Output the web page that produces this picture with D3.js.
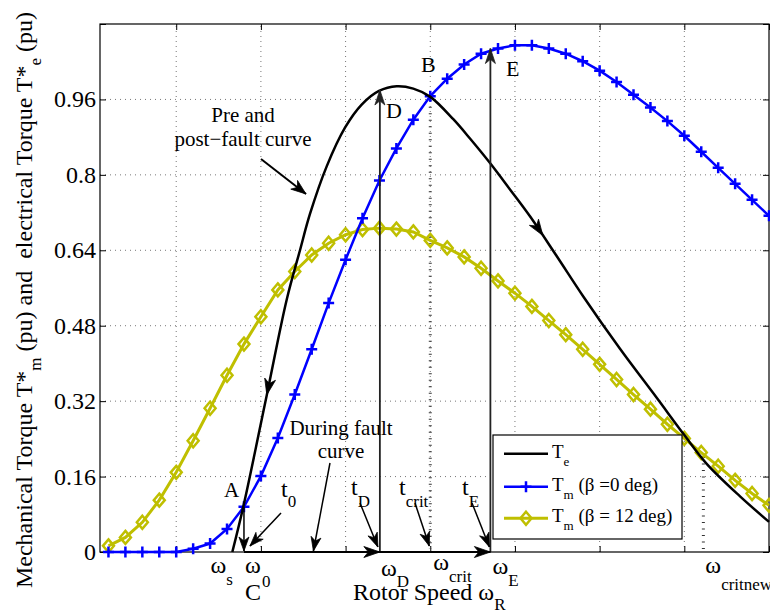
<!DOCTYPE html>
<html><head><meta charset="utf-8">
<script src="https://cdn.jsdelivr.net/npm/d3@7"></script>
<style>
body{margin:0;background:#fff}
svg{display:block}
text{font-family:"Liberation Serif","Times New Roman",serif;fill:#000}
</style>
</head><body>
<svg id="c" width="770" height="612"></svg>
<script>
// ---------------- data ----------------
const speed = [0.984,0.988,0.992,0.996,1.000,1.004,1.008,1.012,1.016,1.020,
               1.024,1.028,1.032,1.036,1.040,1.044,1.048,1.052,1.056,1.060,
               1.064,1.068,1.072,1.076,1.080,1.084,1.088,1.092,1.096,1.100,
               1.104,1.108,1.112,1.116,1.120,1.124,1.128,1.132,1.136,1.140];
const tmBeta0 = [0,0,0,0,0,0.007,0.018,0.049,0.096,0.161,
                 0.242,0.334,0.430,0.528,0.620,0.708,0.788,0.856,0.917,0.967,
                 1.004,1.034,1.057,1.068,1.075,1.075,1.068,1.057,1.041,1.021,
                 0.997,0.970,0.943,0.914,0.883,0.849,0.815,0.781,0.747,0.713];
const tmBeta12 = [0.013,0.031,0.063,0.110,0.169,0.236,0.305,0.375,0.441,0.499,
                  0.556,0.595,0.630,0.655,0.673,0.684,0.687,0.685,0.679,0.661,
                  0.645,0.626,0.602,0.575,0.549,0.521,0.491,0.461,0.430,0.398,
                  0.366,0.334,0.303,0.271,0.241,0.211,0.182,0.152,0.124,0.099];
const teSpeed = [1.01325,1.01584,1.02137,1.02609,1.02923,1.03159,1.03554,1.03986,1.04380,1.04789,
                 1.05207,1.05599,1.05994,1.06544,1.06938,1.07411,1.07883,1.08355,1.08969,1.09614,
                 1.10481,1.11348,1.12000,1.12529,1.13316,1.14000];
const teTorque = [0,0.096,0.332,0.535,0.640,0.717,0.818,0.900,0.949,0.978,
                  0.988,0.983,0.966,0.918,0.877,0.825,0.769,0.712,0.630,0.542,
                  0.431,0.327,0.248,0.187,0.118,0.064];
const xTicks = [1.00,1.02,1.04,1.06,1.08,1.10,1.12,1.14];
const yTicks = [0,0.16,0.32,0.48,0.64,0.80,0.96,1.12];
const yTickLabels = ["0","0.16","0.32","0.48","0.64","0.8","0.96",""];
const xDomain = [0.982,1.14];
const yDomain = [0,1.12];
// key operating points (speed, torque)
const wS = 1.0133, wC0 = 1.0160, wD = 1.0481, wCrit = 1.0600, wE = 1.0742, wCritNew = 1.1245;
const tA = 0.096, tD = 0.980, tB = 0.967, tE = 1.068, tCritNew = 0.21;
const legendNames = [["T","e",""],["T","m"," (β =0 deg)"],["T","m"," (β = 12 deg)"]];

// ---------------- setup ----------------
const svg = d3.select("#c");
const L=100, R=769, T=24, B=552;
const x = d3.scaleLinear(xDomain,[L,R]);
const y = d3.scaleLinear(yDomain,[B,T]);
const BLUE="#0000ff", YEL="#bfbf00";

// grid
const grid = svg.append("g").attr("stroke","#777").attr("stroke-width",1).attr("stroke-dasharray","1 4");
xTicks.filter(v=>v<1.139).forEach(v=>grid.append("line").attr("x1",x(v)).attr("x2",x(v)).attr("y1",B).attr("y2",T));
yTicks.filter(v=>v>0&&v<1.11).forEach(v=>grid.append("line").attr("y1",y(v)).attr("y2",y(v)).attr("x1",L).attr("x2",R));

// axes (ticks inside)
function styleAxis(g){g.select(".domain").remove();g.selectAll("line").attr("stroke","#000");g.selectAll("text").remove();}
svg.append("g").attr("transform",`translate(0,${B})`).call(d3.axisBottom(x).tickValues(xTicks).tickSize(-6).tickFormat("")).call(styleAxis);
svg.append("g").attr("transform",`translate(0,${T})`).call(d3.axisTop(x).tickValues(xTicks).tickSize(-6).tickFormat("")).call(styleAxis);
svg.append("g").attr("transform",`translate(${L},0)`).call(d3.axisLeft(y).tickValues(yTicks).tickSize(-6).tickFormat("")).call(styleAxis);
svg.append("g").attr("transform",`translate(${R},0)`).call(d3.axisRight(y).tickValues(yTicks).tickSize(-6).tickFormat("")).call(styleAxis);
svg.append("rect").attr("x",L).attr("y",T).attr("width",R-L).attr("height",B-T).attr("fill","none").attr("stroke","#000").attr("stroke-width",1.2);

// y tick labels
svg.append("g").selectAll("text").data(yTicks.map((v,i)=>[v,yTickLabels[i]])).join("text")
  .attr("x",L-4).attr("y",d=>y(d[0])+8).attr("text-anchor","end").attr("font-size",24).text(d=>d[1]);

// ---------------- helpers ----------------
function arrowHead(g,tx,ty,ang,len=14,w=10,col="#000"){
  const p=[[0,0],[-len,-w/2],[-len*0.72,0],[-len,w/2]];
  const c=Math.cos(ang),s=Math.sin(ang);
  const pts=p.map(([a,b])=>[tx+a*c-b*s,ty+a*s+b*c]);
  g.append("path").attr("d","M"+pts.map(q=>q.join(",")).join("L")+"Z").attr("fill",col).attr("stroke",col).attr("stroke-width",0.8);
}
function arrow(g,x1,y1,x2,y2,sw=1.5,col="#000",len=14,w=10){
  g.append("line").attr("x1",x1).attr("y1",y1).attr("x2",x2).attr("y2",y2).attr("stroke",col).attr("stroke-width",sw);
  arrowHead(g,x2,y2,Math.atan2(y2-y1,x2-x1),len,w,col);
}
function sublabel(g,xx,yy,main,sub,size=21,subSize=15,dy=11,extra=""){
  const t=g.append("text").attr("x",xx).attr("y",yy).attr("font-size",size);
  t.append("tspan").text(main);
  t.append("tspan").attr("dy",dy).attr("font-size",subSize).text(sub);
  if(extra) t.append("tspan").attr("dy",-dy).text(extra);
  return t;
}
function teAt(v){ for(let i=1;i<teSpeed.length;i++){ if(v<=teSpeed[i]){const f=(v-teSpeed[i-1])/(teSpeed[i]-teSpeed[i-1]); return {val:teTorque[i-1]+f*(teTorque[i]-teTorque[i-1]), i};}} return {val:teTorque[teTorque.length-1],i:teSpeed.length-1}; }

// ---------------- series ----------------
// critical speed markers (dashed)
[[wCrit,tB],[wCritNew,tCritNew]].forEach(([w,t])=>{
  svg.append("line").attr("x1",x(w)).attr("x2",x(w)).attr("y1",y(t)+4).attr("y2",B-3)
    .attr("stroke","#333").attr("stroke-width",3).attr("stroke-dasharray","1 5.5");
});

const line = d3.line().x(d=>x(d[0])).y(d=>y(d[1]));
svg.append("path").datum(speed.map((s,i)=>[s,tmBeta12[i]])).attr("d",line).attr("fill","none").attr("stroke",YEL).attr("stroke-width",3);
svg.append("g").selectAll("path").data(speed.map((s,i)=>[s,tmBeta12[i]])).join("path")
  .attr("d",d=>`M${x(d[0])},${y(d[1])-6.5}l5.5,6.5l-5.5,6.5l-5.5,-6.5z`).attr("fill","none").attr("stroke",YEL).attr("stroke-width",2.5);

svg.append("path").datum(speed.map((s,i)=>[s,tmBeta0[i]])).attr("d",line).attr("fill","none").attr("stroke",BLUE).attr("stroke-width",2.5);
svg.append("g").selectAll("path").data(speed.map((s,i)=>[s,tmBeta0[i]])).join("path")
  .attr("d",d=>`M${x(d[0])-5.5},${y(d[1])}h11M${x(d[0])},${y(d[1])-5.5}v11`).attr("fill","none").attr("stroke",BLUE).attr("stroke-width",2.5);

const smooth = d3.line().x(d=>x(d[0])).y(d=>y(d[1])).curve(d3.curveCatmullRom.alpha(0.5));
svg.append("path").datum(teSpeed.map((s,i)=>[s,teTorque[i]])).attr("d",smooth).attr("fill","none").attr("stroke","#000").attr("stroke-width",2.5);

// arrows on Te curve
[[1.0214,-1],[1.0866,1]].forEach(([v,dir])=>{
  const r=teAt(v); const i=r.i;
  const ang=Math.atan2(y(teTorque[i])-y(teTorque[i-1]),x(teSpeed[i])-x(teSpeed[i-1]))+(dir<0?Math.PI:0);
  arrowHead(svg,x(v),y(r.val),ang,16,11);
});

// vertical arrows
arrow(svg,x(wD),B,x(wD),y(tD),1.8,"#222",15,10);
arrow(svg,x(wE),B,x(wE),y(tE),1.8,"#222",15,10);
arrow(svg,x(wC0),y(tA),x(wC0),B-1,1.5,"#000",14,10);
// horizontal trajectory along axis
svg.append("line").attr("x1",x(wC0)).attr("x2",x(wE)).attr("y1",B).attr("y2",B).attr("stroke","#000").attr("stroke-width",2.2);
arrowHead(svg,x(wD),B,0,16,11);
arrowHead(svg,x(wE),B,0,16,11);

// pointer arrows
arrow(svg,261,159,306,194,2,"#000",15,11);
arrow(svg,330,463,x(1.0324),B-1,1.5,"#000",14,10);
arrow(svg,281,513,x(wC0)+6,B-6,1.5,"#000",14,10);
arrow(svg,360,503,x(wD)-2,B-5,1.5,"#000",14,10);
arrow(svg,415,503,x(wCrit)-1,B-6,1.5,"#000",14,10);
arrow(svg,472,503,x(wE)-1,B-5,1.5,"#000",14,10);

// ---------------- annotation text ----------------
const txt=(xx,yy,s,size=21,anchor="start")=>svg.append("text").attr("x",xx).attr("y",yy).attr("font-size",size).attr("text-anchor",anchor).text(s);
txt(243,122,"Pre and",21,"middle");
txt(243,146,"post\u2212fault curve",21,"middle");
txt(341,435,"During fault",21,"middle");
txt(341,458,"curve",21,"middle");
txt(224,497,"A",21);
txt(421,72,"B",22);
txt(386,118,"D",22);
txt(506,76,"E",22);
sublabel(svg,281,497,"t","0",24,17,10);
sublabel(svg,351,495,"t","D",24,17,12);
sublabel(svg,399,495,"t","crit",24,17,12);
sublabel(svg,462,495,"t","E",24,17,12);

// x-axis speed labels
sublabel(svg,x(wS)-22,573,"ω","s",24,17,12);
txt(x(wC0)+1,573,"ω",24);
txt(x(wC0)+1,600,"C",24);
txt(x(wC0)+18,587,"0",17);
sublabel(svg,x(wD)+1,576,"ω","D",24,17,11);
sublabel(svg,x(wCrit)+3,570,"ω","crit",24,17,12);
sublabel(svg,x(wE)+2,574,"ω","E",24,17,12);
sublabel(svg,x(wCritNew)+2,573,"ω","critnew",24,17,17);
sublabel(svg,353,600,"Rotor Speed ω","R",24,17,10);

// y-axis label
const yl=svg.append("text").attr("transform","translate(32,300) rotate(-90)").attr("text-anchor","middle").attr("font-size",24);
yl.append("tspan").text("Mechanical Torque T*");
yl.append("tspan").attr("dy",9).attr("font-size",17).text("m");
yl.append("tspan").attr("dy",-9).text(" (pu) and\u00a0 electrical Torque T*");
yl.append("tspan").attr("dy",9).attr("font-size",17).text("e");
yl.append("tspan").attr("dy",-9).text(" (pu)");

// ---------------- legend ----------------
const lg=svg.append("g");
lg.append("rect").attr("x",493).attr("y",435).attr("width",189).attr("height",104).attr("fill","#fff").attr("stroke","#000").attr("stroke-width",1.2);
const rows=[453.7,486.7,518.3];
const cols=["#000",BLUE,YEL];
rows.forEach((ry,i)=>{
  lg.append("line").attr("x1",504).attr("x2",548).attr("y1",ry).attr("y2",ry).attr("stroke",cols[i]).attr("stroke-width",i==2?3:2.5);
  if(i==1) lg.append("path").attr("d",`M520.5,${ry}h11M526,${ry-5.5}v11`).attr("stroke",BLUE).attr("stroke-width",2.5);
  if(i==2) lg.append("path").attr("d",`M526,${ry-6.5}l5.5,6.5l-5.5,6.5l-5.5,-6.5z`).attr("fill","none").attr("stroke",YEL).attr("stroke-width",2.5);
  sublabel(lg,552,ry+4,legendNames[i][0],legendNames[i][1],19,13,8,legendNames[i][2]);
});
</script>
</body></html>
